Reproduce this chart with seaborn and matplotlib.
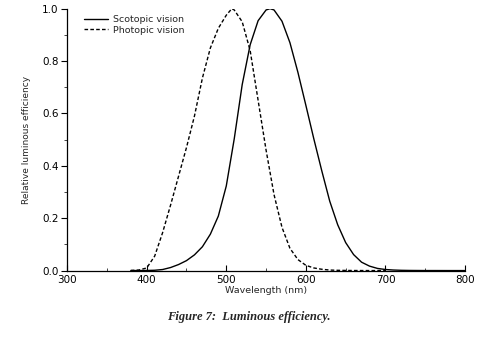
import matplotlib
matplotlib.use("Agg")
import matplotlib.pyplot as plt
from matplotlib.ticker import MultipleLocator, FixedLocator
import numpy as np
import pandas as pd
import seaborn as sns

# Wavelength grid (nm) and relative luminous efficiency of each curve
scotopic_wl = [380, 390, 400, 410, 420, 430, 440, 450, 460, 470, 480, 490,
               500, 510, 520, 530, 540, 550, 555, 560, 570, 580, 590, 600,
               610, 620, 630, 640, 650, 660, 670, 680, 690, 700, 710, 720,
               730, 740, 750, 760, 780, 800]
scotopic_eff = [0.0, 0.0001, 0.0004, 0.0012, 0.004, 0.0116, 0.023, 0.038,
                0.06, 0.091, 0.139, 0.208, 0.323, 0.503, 0.71, 0.862, 0.954,
                0.995, 1.0, 0.995, 0.952, 0.87, 0.757, 0.631, 0.503, 0.381,
                0.265, 0.175, 0.107, 0.061, 0.032, 0.017, 0.0082, 0.0041,
                0.0021, 0.001, 0.0005, 0.0003, 0.0001, 0.0001, 0.0, 0.0]

photopic_wl = [380, 390, 400, 410, 420, 430, 440, 450, 460, 470, 480, 490,
               500, 507, 510, 520, 530, 540, 550, 560, 570, 580, 590, 600,
               610, 620, 630, 640, 650, 660, 680, 700]
photopic_eff = [0.0005, 0.002, 0.01, 0.055, 0.145, 0.25, 0.36, 0.47, 0.59,
                0.735, 0.85, 0.925, 0.975, 1.0, 0.995, 0.95, 0.84, 0.65, 0.46,
                0.29, 0.165, 0.085, 0.042, 0.02, 0.01, 0.005, 0.002, 0.001,
                0.0005, 0.0002, 0.0, 0.0]

x_ticks = [300, 400, 500, 600, 700, 800]
y_ticks = [0.0, 0.2, 0.4, 0.6, 0.8, 1.0]
y_tick_labels = ["0.0", "0.2", "0.4", "0.6", "0.8", "1.0"]

series_labels = ["Scotopic vision", "Photopic vision"]
x_label = "Wavelength (nm)"
y_label = "Relative luminous efficiency"
caption = "Figure 7:  Luminous efficiency."

sns.set_theme(style="ticks")
plt.rcParams["font.family"] = ["DejaVu Sans"]

scot = pd.DataFrame({"wl": scotopic_wl, "eff": scotopic_eff})
phot = pd.DataFrame({"wl": photopic_wl, "eff": photopic_eff})

fig = plt.figure(figsize=(4.9, 3.46), dpi=100)
ax = fig.add_axes([0.137, 0.218, 0.812, 0.757])

sns.lineplot(data=scot, x="wl", y="eff", ax=ax, color="black",
             linewidth=1.0, label=series_labels[0])
sns.lineplot(data=phot, x="wl", y="eff", ax=ax, color="black",
             linewidth=1.0, linestyle=(0, (2.6, 1.6)), label=series_labels[1])

ax.set_xlim(300, 800)
ax.set_ylim(0, 1.0)
ax.xaxis.set_major_locator(FixedLocator(x_ticks))
ax.xaxis.set_minor_locator(MultipleLocator(50))
ax.yaxis.set_major_locator(FixedLocator(y_ticks))
ax.set_yticklabels(y_tick_labels)
ax.yaxis.set_minor_locator(MultipleLocator(0.1))

ax.tick_params(axis="x", which="major", direction="in", length=4, width=0.8,
               pad=3, labelsize=7.5, colors="black")
ax.tick_params(axis="x", which="minor", direction="in", length=2, width=0.6)
ax.tick_params(axis="y", which="major", direction="out", length=4, width=0.8,
               pad=2, labelsize=7.5, colors="black")
ax.tick_params(axis="y", which="minor", direction="out", length=2, width=0.6)

for side in ("top", "right"):
    ax.spines[side].set_visible(False)
for side in ("left", "bottom"):
    ax.spines[side].set_linewidth(0.9)
    ax.spines[side].set_color("black")

ax.set_xlabel(x_label, fontsize=6.8, labelpad=1)
ax.set_ylabel(y_label, fontsize=6.5, labelpad=8)

leg = ax.legend(loc="upper left", bbox_to_anchor=(0.025, 1.0), frameon=False,
                fontsize=6.8, handlelength=2.6, handletextpad=0.5,
                labelspacing=0.15, borderaxespad=0.3)

fig.text(0.508, 0.085, caption, ha="center", va="center", fontsize=9,
         family=["Liberation Serif"], style="italic", weight="bold")

fig.savefig("out.png", dpi=100, facecolor="white")
